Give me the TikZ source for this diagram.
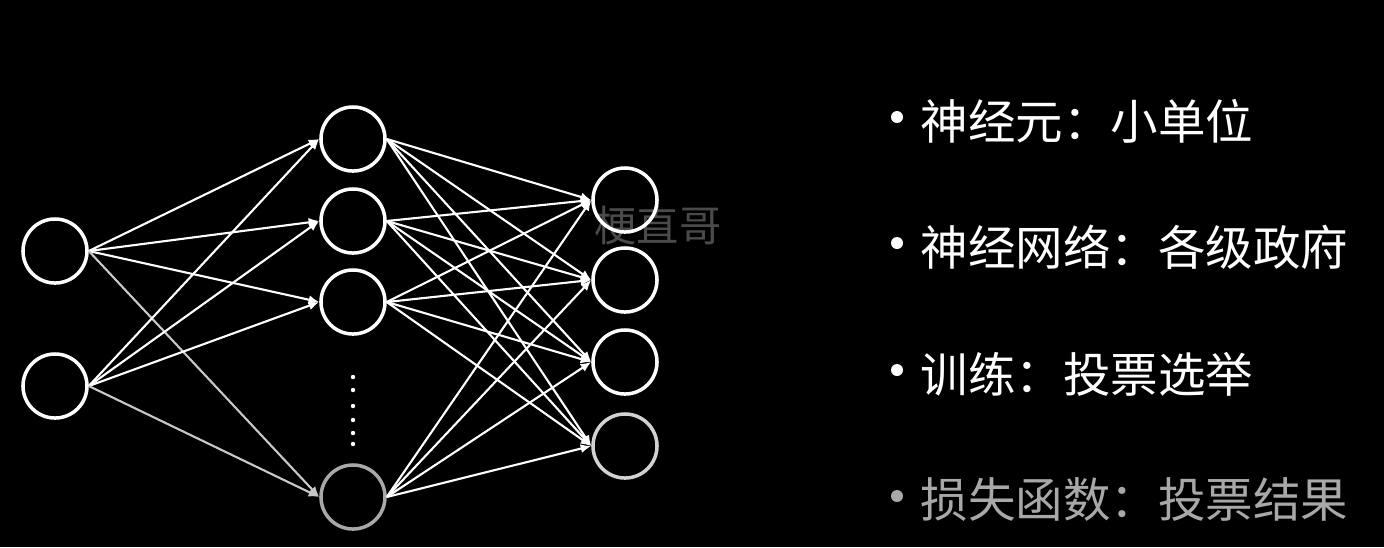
\documentclass[tikz,border=0pt]{standalone}
\usepackage{fontspec}
\newfontfamily\cjk{Noto Sans CJK SC}
\usetikzlibrary{arrows.meta}
\definecolor{fadegray}{HTML}{A8A8A8}
\definecolor{softgray}{HTML}{D2D2D2}
\definecolor{linkgray}{HTML}{C8C8C8}
\definecolor{markgray}{HTML}{4A4A4A}
\begin{document}
\begin{tikzpicture}[
    x=0.01cm, y=-0.01cm,
    neuron/.style={circle, draw=white, line width=1pt, minimum size=0.64cm, inner sep=0pt},
    link/.style={-{Latex[length=3pt,width=2.6pt]}, draw=white, line width=0.6pt},
    bulletdot/.style={circle, fill=white, minimum size=0.12cm, inner sep=0pt},
    item/.style={anchor=west, inner sep=0pt, text=white, font=\cjk\fontsize{13.5}{16}\selectfont},
    watermark/.style={text=markgray, inner sep=0pt, font=\cjk\fontsize{12}{14}\selectfont},
]
    % Background
    \fill[black] (0,0) rectangle (1384,547);
    \useasboundingbox (0,0) rectangle (1384,547);

    % Watermark
    \node[watermark] (wm) at (658,225) {梗直哥};

    % Input layer
    \node[neuron] (in1) at (55,251) {};
    \node[neuron] (in2) at (55,386) {};

    % Hidden layer
    \node[neuron] (h1) at (353,139) {};
    \node[neuron] (h2) at (353,221) {};
    \node[neuron] (h3) at (353,302) {};
    \node[neuron, draw=fadegray] (h4) at (353,497) {};
    \foreach \y in {377,390,406,420,433,444}
        \fill[white] (353,\y) circle (2.2);

    % Output layer
    \node[neuron] (o1) at (625,200) {};
    \node[neuron] (o2) at (625,280) {};
    \node[neuron] (o3) at (625,362) {};
    \node[neuron, draw=softgray] (o4) at (625,446) {};

    % Input -> hidden
    \draw[link] (in1.east) -- (h1.west);
    \draw[link] (in1.east) -- (h2.west);
    \draw[link] (in1.east) -- (h3.west);
    \draw[link, draw=linkgray] (in1.east) -- (h4.west);
    \draw[link] (in2.east) -- (h1.west);
    \draw[link] (in2.east) -- (h2.west);
    \draw[link] (in2.east) -- (h3.west);
    \draw[link, draw=linkgray] (in2.east) -- (h4.west);

    % Hidden -> output
    \draw[link] (h1.east) -- (o1.west);
    \draw[link] (h1.east) -- (o2.west);
    \draw[link] (h1.east) -- (o3.west);
    \draw[link] (h1.east) -- (o4.west);
    \draw[link] (h2.east) -- (o1.west);
    \draw[link] (h2.east) -- (o2.west);
    \draw[link] (h2.east) -- (o3.west);
    \draw[link] (h2.east) -- (o4.west);
    \draw[link] (h3.east) -- (o1.west);
    \draw[link] (h3.east) -- (o2.west);
    \draw[link] (h3.east) -- (o3.west);
    \draw[link] (h3.east) -- (o4.west);
    \draw[link] (h4.east) -- (o1.west);
    \draw[link] (h4.east) -- (o2.west);
    \draw[link] (h4.east) -- (o3.west);
    \draw[link] (h4.east) -- (o4.west);

    % Analogy list
    \node[bulletdot] (b1) at (897,117) {};
    \node[item] (t1) at (920,121) {神经元：小单位};
    \node[bulletdot] (b2) at (897,243) {};
    \node[item] (t2) at (920,247) {神经网络：各级政府};
    \node[bulletdot] (b3) at (897,370) {};
    \node[item] (t3) at (920,374) {训练：投票选举};
    \node[bulletdot, fill=fadegray] (b4) at (897,496) {};
    \node[item, text=fadegray] (t4) at (920,500) {损失函数：投票结果};
\end{tikzpicture}
\end{document}
